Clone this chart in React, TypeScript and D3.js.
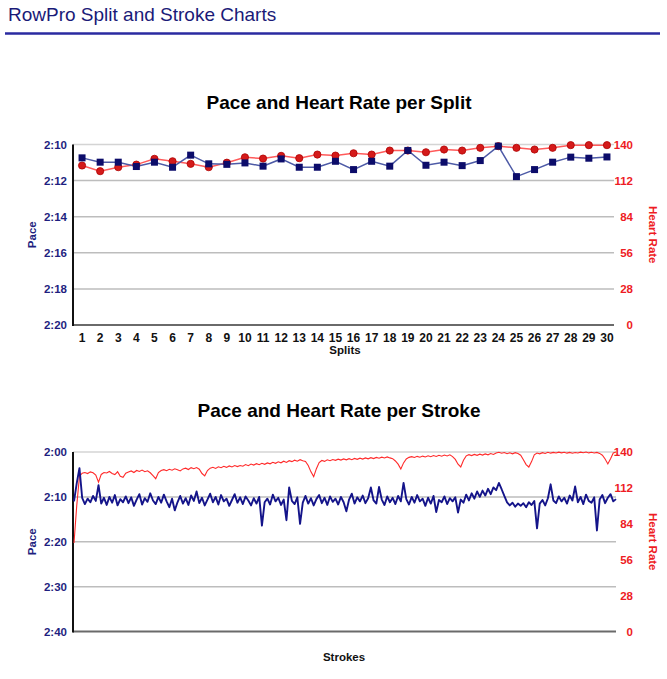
import React from 'react';
import * as d3 from 'd3';

// ---------- Data ----------
const splits = [1, 2, 3, 4, 5, 6, 7, 8, 9, 10, 11, 12, 13, 14, 15, 16, 17, 18, 19, 20, 21, 22, 23, 24, 25, 26, 27, 28, 29, 30];
// pace per split in seconds (per 500m)
const splitPace = [130.74, 130.98, 130.98, 131.22, 130.98, 131.26, 130.59, 131.07, 131.1, 131.02, 131.2, 130.8, 131.26, 131.26, 130.93, 131.39, 130.93, 131.2, 130.33, 131.15, 130.98, 131.17, 130.89, 130.09, 131.78, 131.39, 130.98, 130.7, 130.76, 130.69];
const splitHR = [123.7, 119.3, 122.4, 124.4, 128.9, 127.0, 125.0, 122.4, 125.9, 130.1, 129.1, 131.2, 129.4, 132.2, 131.4, 133.2, 132.2, 135.3, 135.3, 134.0, 136.1, 135.3, 137.4, 138.7, 137.4, 136.1, 137.4, 139.5, 139.5, 139.5];

// pace per stroke in seconds
const strokePace = [
  131.0, 127.0, 123.6, 130.2, 131.6, 130.4, 131.2, 129.8, 130.9, 127.4,
  131.5, 130.2, 131.8, 130.0, 131.3, 129.6, 131.9, 130.5, 131.2, 129.9,
  131.4, 130.1, 132.0, 130.6, 129.4, 131.7, 130.3, 131.1, 129.2, 130.8,
  131.6, 130.0, 131.3, 129.5, 131.0, 132.3, 130.4, 133.0, 131.2, 129.8,
  131.5, 130.3, 131.8, 129.7, 130.9, 128.8, 131.4, 130.2, 131.9, 130.6,
  129.3, 131.2, 130.0, 131.7, 129.6, 131.0, 130.4, 132.0, 130.7, 129.4,
  131.3, 130.1, 131.6, 129.9, 130.8, 131.9, 130.3, 131.5, 130.0, 136.4,
  131.2, 130.4, 131.7, 129.5, 131.0, 130.2, 131.8, 130.6, 135.2, 127.9,
  130.9, 131.6, 130.1, 136.0, 131.3, 129.8, 131.5, 130.3, 131.9, 130.5,
  129.6, 131.4, 130.2, 131.8, 129.9, 131.1, 130.4, 131.7, 130.0, 131.2,
  133.2, 130.6, 129.3, 131.5, 130.1, 131.0, 129.7, 131.4, 130.3, 127.9,
  130.8, 131.5, 127.8, 130.6, 131.8, 129.9, 131.2, 130.2, 131.6, 129.8,
  131.0, 126.9, 130.5, 131.7, 130.0, 131.3, 129.6, 131.0, 130.4, 132.0,
  130.2, 131.5, 129.8, 133.4, 130.7, 131.2, 129.9, 131.6, 130.3, 131.0,
  130.1, 133.5, 130.6, 131.3, 129.5, 130.8, 129.2, 130.4, 128.8, 130.0,
  128.6, 129.7, 128.2, 129.4, 127.9, 128.5, 126.9, 128.3, 129.8, 131.2,
  131.9, 131.3, 132.2, 131.5, 132.0, 131.4, 132.3, 131.2, 131.8, 130.9,
  137.0, 131.5, 130.7, 131.9, 130.3, 127.2, 130.8, 131.4, 129.9, 131.0,
  130.2, 131.5, 129.7, 130.8, 127.7, 131.2, 130.0, 131.6, 129.5, 130.9,
  131.3, 130.1, 137.5, 130.6, 129.6, 131.4, 130.2, 129.4, 131.0, 130.5,
];
// heart rate per stroke
const strokeHR = [
  69, 98, 121, 123.5, 124, 123.2, 124.5, 123.8, 122, 116.5,
  122.5, 124, 123.6, 124.8, 123.2, 122.4, 124.6, 121.0, 120.2, 123.5,
  124.4, 125.2, 124.0, 125.6, 124.8, 125.9, 124.6, 125.3, 123.8, 121.5,
  119.2, 123.9, 125.6, 126.2, 125.4, 126.5, 125.8, 126.9, 126.1, 125.2,
  126.8, 127.4, 126.3, 127.8, 127.0, 127.9, 126.6, 123.2, 121.4, 125.5,
  127.4, 128.1, 127.2, 128.5, 127.7, 128.8, 128.0, 129.1, 128.3, 129.4,
  128.6, 129.5, 128.9, 130.2, 129.3, 130.6, 129.8, 130.9, 130.1, 131.2,
  130.4, 131.5, 130.8, 132.0, 131.2, 132.4, 131.6, 132.8, 131.9, 133.2,
  132.5, 133.6, 132.8, 134.0, 133.1, 132.6, 129.5, 124.5, 120.8, 127.0,
  131.8, 133.4, 132.7, 133.9, 133.2, 134.1, 133.5, 134.4, 133.7, 134.6,
  133.9, 134.8, 134.0, 135.0, 134.3, 135.2, 134.5, 135.4, 134.7, 135.6,
  134.9, 135.8, 135.1, 136.0, 135.3, 136.2, 135.4, 134.8, 133.0, 130.5,
  126.8, 131.5, 134.6, 135.8, 136.4, 135.7, 136.6, 135.9, 136.8, 136.1,
  137.0, 136.3, 137.2, 136.5, 137.4, 136.7, 137.6, 136.9, 137.8, 136.4,
  134.2, 130.5, 128.3, 133.6, 137.0, 137.9, 137.2, 138.1, 137.4, 138.3,
  137.6, 138.5, 137.8, 138.8, 138.1, 139.3, 139.8, 139.0, 139.6, 138.7,
  139.4, 138.6, 139.5, 138.8, 137.5, 134.0, 130.2, 128.3, 132.5, 137.8,
  139.2, 138.6, 139.5, 138.9, 139.8, 139.1, 139.7, 139.2, 139.9, 139.3,
  139.8, 139.1, 139.7, 139.0, 139.6, 139.2, 139.9, 139.4, 140.0, 139.3,
  139.8, 139.2, 139.7, 138.9, 137.5, 134.5, 130.7, 134.8, 139.2, 140.0,
];

const paceTicksSplit = [130, 132, 134, 136, 138, 140];
const paceTicksStroke = [120, 130, 140, 150, 160];
const hrTicks = [0, 28, 56, 84, 112, 140];

// ---------- Styles ----------
const FONT = "'Liberation Sans', Arial, Helvetica, sans-serif";
const NAVY = '#1f1f80';
const RED = '#ee1c24';
const fmtPace = (s: number) => `${Math.floor(s / 60)}:${String(Math.round(s % 60)).padStart(2, '0')}`;

type FrameProps = {
  x0: number; x1: number; y0: number; y1: number;
  yPace: d3.ScaleLinear<number, number>;
  yHR: d3.ScaleLinear<number, number>;
  paceTicks: number[];
  title: string;
  titleY: number;
};

function Frame({ x0, x1, y0, y1, yPace, yHR, paceTicks, title, titleY }: FrameProps) {
  const mid = (y0 + y1) / 2;
  return (
    <g>
      <text x={339} y={titleY} textAnchor="middle" fontFamily={FONT} fontWeight="bold" fontSize={19} fill="#000">{title}</text>
      {paceTicks.map((t, i) => {
        const y = yPace(t);
        const last = i === paceTicks.length - 1;
        const first = i === 0;
        return (
          <g key={t}>
            <line x1={x0} x2={x1} y1={y} y2={y}
              stroke={last ? '#6a6a6a' : first ? '#d4d4d4' : '#bdbdbd'}
              strokeWidth={last ? 2 : 1.5} />
            <text x={67} y={y} dy="0.35em" textAnchor="end" fontFamily={FONT} fontWeight="bold" fontSize={11.5} fill={NAVY}>{fmtPace(t)}</text>
          </g>
        );
      })}
      {hrTicks.map((t) => (
        <text key={t} x={633} y={yHR(t)} dy="0.35em" textAnchor="end" fontFamily={FONT} fontWeight="bold" fontSize={11.5} fill={RED}>{t}</text>
      ))}
      <text transform={`translate(36,${mid}) rotate(-90)`} textAnchor="middle" fontFamily={FONT} fontWeight="bold" fontSize={11.5} fill={NAVY}>Pace</text>
      <text transform={`translate(649,${mid}) rotate(90)`} textAnchor="middle" fontFamily={FONT} fontWeight="bold" fontSize={11.5} fill={RED}>Heart Rate</text>
    </g>
  );
}

export default function App() {
  // ----- split chart -----
  const sx0 = 73, sx1 = 614, sy0 = 144.5, sy1 = 325;
  const xS = d3.scalePoint<number>().domain(splits).range([73, 616]).padding(0.5);
  const yPS = d3.scaleLinear().domain([130, 140]).range([sy0, sy1]);
  const yHS = d3.scaleLinear().domain([0, 140]).range([sy1, sy0]);
  const paceLineS = d3.line<number>().x((_, i) => xS(splits[i]) as number).y((d) => yPS(d));
  const hrLineS = d3.line<number>().x((_, i) => xS(splits[i]) as number).y((d) => yHS(d));

  // ----- stroke chart -----
  const bx0 = 73, bx1 = 616, by0 = 452, by1 = 631.5;
  const xB = d3.scaleLinear().domain([0, strokePace.length - 1]).range([74, 616]);
  const yPB = d3.scaleLinear().domain([120, 160]).range([by0, by1]);
  const yHB = d3.scaleLinear().domain([0, 140]).range([by1, by0]);
  const paceLineB = d3.line<number>().x((_, i) => xB(i)).y((d) => yPB(d));
  const hrLineB = d3.line<number>().x((_, i) => xB(i)).y((d) => yHB(d));

  return (
    <svg width={667} height={679} style={{ position: 'absolute', left: 0, top: 0, background: '#fff' }}>
      <rect x={0} y={0} width={667} height={679} fill="#fff" />
      {/* header */}
      <text x={8} y={21} fontFamily={FONT} fontSize={19} fill="#1a1a78">RowPro Split and Stroke Charts</text>
      <line x1={5} x2={660} y1={33.5} y2={33.5} stroke="#2a2aa0" strokeWidth={2.5} />

      {/* split chart */}
      <Frame x0={sx0} x1={sx1} y0={sy0} y1={sy1} yPace={yPS} yHR={yHS} paceTicks={paceTicksSplit}
        title="Pace and Heart Rate per Split" titleY={109} />
      {splits.map((s) => (
        <text key={s} x={xS(s)} y={342} textAnchor="middle" fontFamily={FONT} fontWeight="bold" fontSize={12} fill="#111">{s}</text>
      ))}
      <text x={345} y={354} textAnchor="middle" fontFamily={FONT} fontWeight="bold" fontSize={11.5} fill="#111">Splits</text>
      <line x1={sx0} x2={sx0} y1={sy0} y2={sy1 + 1} stroke="#111" strokeWidth={2} />
      <path d={hrLineS(splitHR) || ''} fill="none" stroke="#ff5a5a" strokeWidth={1.5} />
      <path d={paceLineS(splitPace) || ''} fill="none" stroke="#4d5aa6" strokeWidth={1.5} />
      {splitHR.map((v, i) => (
        <circle key={'h' + i} cx={xS(splits[i])} cy={yHS(v)} r={3.6} fill="#d41a1a" stroke="#b00000" strokeWidth={0.8} />
      ))}
      {splitPace.map((v, i) => (
        <rect key={'p' + i} x={(xS(splits[i]) as number) - 3.5} y={yPS(v) - 3.5} width={7} height={7} fill="#0c0c6a" />
      ))}

      {/* stroke chart */}
      <Frame x0={bx0} x1={bx1} y0={by0} y1={by1} yPace={yPB} yHR={yHB} paceTicks={paceTicksStroke}
        title="Pace and Heart Rate per Stroke" titleY={417} />
      <line x1={bx0} x2={bx0} y1={by0} y2={by1 + 1} stroke="#111" strokeWidth={2} />
      <path d={hrLineB(strokeHR) || ''} fill="none" stroke="#ff2a2a" strokeWidth={1.1} />
      <path d={paceLineB(strokePace) || ''} fill="none" stroke="#14148a" strokeWidth={1.9} strokeLinejoin="round" />
      <text x={344} y={661} textAnchor="middle" fontFamily={FONT} fontWeight="bold" fontSize={11.5} fill="#111">Strokes</text>
    </svg>
  );
}
